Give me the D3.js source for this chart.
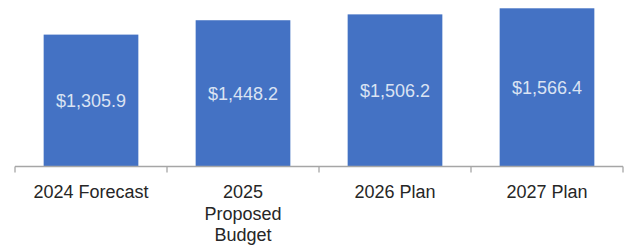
<!DOCTYPE html>
<html>
<head>
<meta charset="utf-8">
<script src="https://cdn.jsdelivr.net/npm/d3@7"></script>
<style>
  html, body { margin: 0; padding: 0; background: #fff; }
  svg { display: block; }
</style>
</head>
<body>
<svg id="chart" width="626" height="246"></svg>
<script>
const categories = ["2024 Forecast", "2025\nProposed\nBudget", "2026 Plan", "2027 Plan"];
const values = [1305.9, 1448.2, 1506.2, 1566.4];
const valueLabels = ["$1,305.9", "$1,448.2", "$1,506.2", "$1,566.4"];

const svg = d3.select("#chart");
const font = "'Liberation Sans', Arial, Helvetica, sans-serif";
const axisY = 166.5;

const x = d3.scaleBand().domain(categories).range([15, 623]).paddingInner(0.377).paddingOuter(0.1885);
const y = d3.scaleLinear().domain([0, 1600]).range([axisY, 4.9]);

// bars
svg.selectAll("rect.bar").data(values).join("rect")
  .attr("class", "bar")
  .attr("x", (d, i) => x(categories[i]))
  .attr("width", x.bandwidth())
  .attr("y", d => y(d))
  .attr("height", d => axisY - y(d))
  .attr("fill", "#4472C4");

// value labels
svg.selectAll("text.val").data(values).join("text")
  .attr("class", "val")
  .attr("x", (d, i) => x(categories[i]) + x.bandwidth() / 2)
  .attr("y", d => (y(d) + axisY) / 2)
  .attr("dy", "0.35em")
  .attr("text-anchor", "middle")
  .attr("font-family", font)
  .attr("font-size", "18px")
  .attr("fill", "#dae3f3")
  .text((d, i) => valueLabels[i]);

// axis line and tick separators
const axisColor = "#a6a6a6";
svg.append("line")
  .attr("x1", 15).attr("x2", 623)
  .attr("y1", axisY).attr("y2", axisY)
  .attr("stroke", axisColor).attr("stroke-width", 1.3);

const step = x.step();
const bounds = d3.range(categories.length + 1).map(i => 15 + i * (608 / categories.length));
svg.selectAll("line.tick").data(bounds).join("line")
  .attr("class", "tick")
  .attr("x1", d => d).attr("x2", d => d)
  .attr("y1", axisY).attr("y2", axisY + 6)
  .attr("stroke", axisColor).attr("stroke-width", 1.3);

// category labels
const cat = svg.selectAll("text.cat").data(categories).join("text")
  .attr("class", "cat")
  .attr("text-anchor", "middle")
  .attr("font-family", font)
  .attr("font-size", "18px")
  .attr("fill", "#262626");
cat.each(function(d) {
  const t = d3.select(this);
  const cx = x(d) + x.bandwidth() / 2;
  d.split("\n").forEach((line, j) => {
    t.append("tspan").attr("x", cx).attr("y", 198.3 + j * 21.5).text(line);
  });
});
</script>
</body>
</html>
